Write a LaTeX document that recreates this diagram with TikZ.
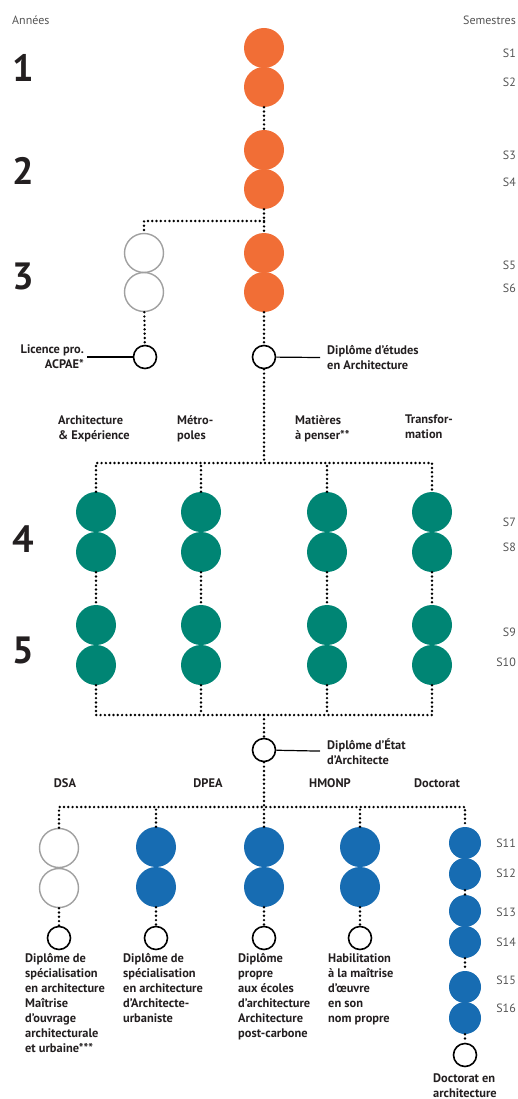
\documentclass[tikz,border=0pt]{standalone}
\usepackage{fontspec}
\setmainfont{PT Sans}
\usepackage{xcolor}
\usepackage{tikz}
\usetikzlibrary{positioning}

\definecolor{orangeL}{RGB}{241,110,54}
\definecolor{greenM}{RGB}{0,133,116}
\definecolor{blueP}{RGB}{23,108,178}
\definecolor{greyC}{RGB}{160,160,160}
\definecolor{textC}{RGB}{35,31,32}
\definecolor{semC}{RGB}{85,85,85}

\begin{document}
\begin{tikzpicture}[x=1pt,y=-1pt,
  semdot/.style={circle,inner sep=0pt,minimum size=40pt},
  semsmall/.style={circle,inner sep=0pt,minimum size=32pt,fill=blueP},
  semopen/.style={circle,inner sep=0pt,draw=greyC,line width=1.4pt,minimum size=39pt},
  diplome/.style={circle,draw=black,line width=1.6pt,inner sep=0pt,minimum size=23pt},
  dotline/.style={line width=2.7pt,line cap=round,dash pattern=on 0pt off 4.3pt},
  lbl/.style={font=\fontsize{12.4}{15}\selectfont\bfseries,text=textC,align=left,inner sep=0pt},
  semlbl/.style={font=\fontsize{12}{13}\selectfont,text=semC,anchor=east,inner sep=0pt},
  yearlbl/.style={font=\fontsize{38}{38}\selectfont\bfseries,text=textC}]
\useasboundingbox (0,0) rectangle (518,1099);

% headings
\node[semlbl,anchor=west] (annees) at (12,20) {Années};
\node[semlbl] (semestres) at (516,20) {Semestres};

% years
\foreach \y/\yr in {68/1,171/2,276/3,539/4,650/5}
\node[yearlbl] (year\yr) at (23,\y) {\yr};

% semesters
\foreach \y/\s in {53/1,82/2,155/3,182/4,265/5,288/6,522/7,547/8,632/9,662/10,843/11,873/12,912/13,942/14,980/15,1008/16}
\node[semlbl] (s\s) at (516,\y) {S\s};

% licence: orange circles
\foreach \n/\y in {1/48,2/87,3/150,4/189,5/253,6/292}
\node[semdot,fill=orangeL] (o\n) at (264,\y) {};
\foreach \n/\y in {5/253,6/292}
\node[semopen] (g\n) at (144,\y) {};

\node[diplome] (lic) at (145,357) {};
\node[diplome] (dea) at (264,357) {};
\node[lbl,align=right,anchor=east,inner xsep=3pt] (licL) at (87,357) {Licence pro.\\ACPAE*};
\node[lbl,anchor=west,inner xsep=7pt] (deaL) at (320,358) {Diplôme d’études\\en Architecture};

\coordinate (j1) at (264,221);
\draw[dotline] (o2) -- (o3);
\draw[dotline] (o4) -- (o5);
\draw[dotline] (j1) -| (g5);
\draw[dotline] (o6) -- (dea);
\draw[dotline] (g6) -- (lic);
\draw[line width=1.2pt] (lic) -- (licL);
\draw[line width=1.2pt] (dea) -- (deaL);

% master: green circles
\foreach \x/\descr in {58/{Architecture\\\& Expérience},177/{Métro-\\poles},295/{Matières\\à penser**},405/{Transfor-\\mation}}
\node[lbl,anchor=north west] at (\x,415) {\descr};

\foreach \c/\x in {a/96,b/201,c/327,d/432}{
  \foreach \n/\y in {7/512,8/552,9/625,10/665}
  \node[semdot,fill=greenM] (\c\n) at (\x,\y) {};
  \draw[dotline] (\c8) -- (\c9);
}

\coordinate (j2) at (264,463);
\draw[dotline] (dea) -- (j2);
\draw[dotline] (a7) |- (j2) -| (d7);
\draw[dotline] (b7) -- (b7 |- j2);
\draw[dotline] (c7) -- (c7 |- j2);

\node[diplome] (dee) at (264,750) {};
\node[lbl,anchor=west,inner xsep=7pt] (deeL) at (320,752) {Diplôme d’État\\d’Architecte};

\coordinate (j3) at (264,715);
\draw[dotline] (a10) |- (j3) -| (d10);
\draw[dotline] (b10) -- (b10 |- j3);
\draw[dotline] (c10) -- (c10 |- j3);
\draw[dotline] (j3) -- (dee);
\draw[line width=1.2pt] (dee) -- (deeL);

% after the master
\foreach \x/\descr in {65/DSA,208/DPEA,330/HMONP,437/Doctorat}
\node[lbl] (\descr) at (\x,783) {\descr};

\node[semopen] (e11) at (59,848) {};
\node[semopen] (e12) at (59,888) {};
\foreach \c/\x in {f/156,h/264,k/360}{
  \node[semdot,fill=blueP] (\c11) at (\x,847) {};
  \node[semdot,fill=blueP] (\c12) at (\x,887) {};
}
\foreach \n/\y in {11/843,12/874,13/911,14/942,15/987,16/1018}
\node[semsmall] (p\n) at (465,\y) {};

\foreach \c/\x in {e/59,f/156,h/264,k/360}{
  \node[diplome] (\c D) at (\x,938) {};
  \draw[dotline] (\c12) -- (\c D);
}
\node[diplome] (pD) at (465,1055) {};

\coordinate (j4) at (264,807);
\draw[dotline] (dee) -- (j4);
\draw[dotline] (e11) |- (j4) -| (p11);
\draw[dotline] (f11) -- (f11 |- j4);
\draw[dotline] (h11) -- (h11 |- j4);
\draw[dotline] (k11) -- (k11 |- j4);
\draw[dotline] (p12) -- (p13);
\draw[dotline] (p14) -- (p15);
\draw[dotline] (p16) -- (pD);

% diplomas
\node[lbl,anchor=north west] (dsaT) at (25,953) {Diplôme de\\spécialisation\\en architecture\\Maîtrise\\d’ouvrage\\architecturale\\et urbaine***};
\node[lbl,anchor=north west] (dpeaT) at (123,953) {Diplôme de\\spécialisation\\en architecture\\d’Architecte-\\urbaniste};
\node[lbl,anchor=north west] (propreT) at (238,953) {Diplôme\\propre\\aux écoles\\d’architecture\\Architecture\\post-carbone};
\node[lbl,anchor=north west] (hmonpT) at (328,953) {Habilitation\\à la maîtrise\\d’œuvre\\en son\\nom propre};
\node[lbl,anchor=north west] (doctT) at (433,1073) {Doctorat en\\architecture};
\end{tikzpicture}
\end{document}
